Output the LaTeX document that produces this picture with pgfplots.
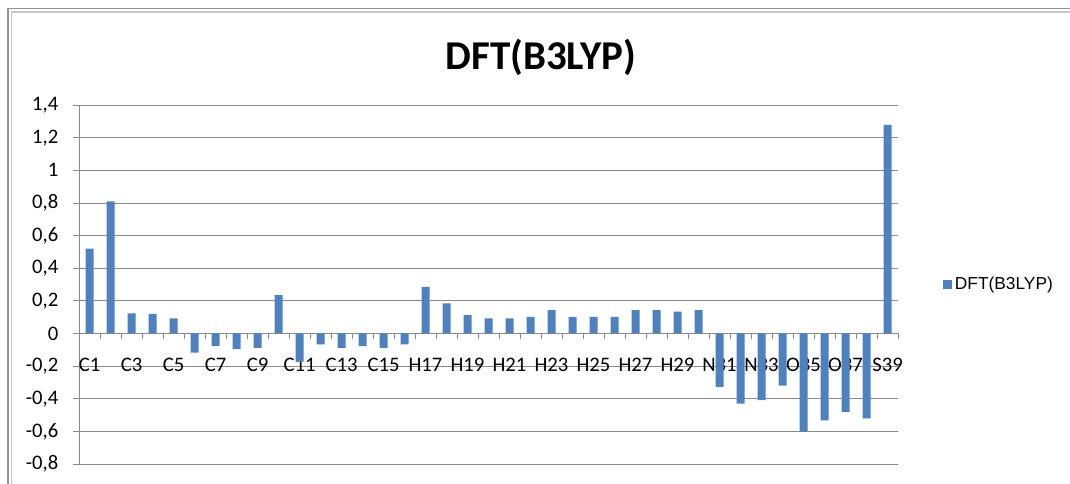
\documentclass[border=0pt]{standalone}
\usepackage{pgfplots}
\pgfplotsset{compat=1.18}
\usepackage{fontspec}
\setmainfont{Carlito}
\newfontfamily\arialfont{Liberation Sans}
\definecolor{barblue}{HTML}{4F81BD}
\definecolor{gridgray}{HTML}{8A8A8A}
\begin{document}
\begin{tikzpicture}
\useasboundingbox (0,0) rectangle (802.5pt,363pt);
\fill[white] (0,0) rectangle (802.5pt,363pt);
\draw[gray!85, line width=1pt] (6pt,0) -- (6pt,356.5pt) -- (802.5pt,356.5pt);
\draw[gray!45, line width=0.8pt] (8.6pt,0) -- (8.6pt,354pt) -- (802.5pt,354pt);
\node[font=\bfseries\fontsize{30.7}{36}\selectfont] at (405.75pt,320pt) {DFT(B3LYP)};
\begin{axis}[
  at={(59.25pt,15pt)}, anchor=south west,
  scale only axis, width=614.25pt, height=269.25pt,
  xmin=0.5, xmax=39.5, ymin=-0.8, ymax=1.4,
  axis x line=middle, axis y line=left,
  hide obscured x ticks=false, hide obscured y ticks=false,
  x axis line style={-, draw=gridgray, line width=0.6pt},
  y axis line style={-, draw=gridgray, line width=0.6pt},
  xtick={1,3,...,39},
  xticklabels={C1,C3,C5,C7,C9,C11,C13,C15,H17,H19,H21,H23,H25,H27,H29,N31,N33,O35,O37,S39},
  minor xtick={0.5,1.5,...,39.5},
  ytick={-0.8,-0.6,-0.4,-0.2,0,0.2,0.4,0.6,0.8,1,1.2,1.4},
  yticklabels={{-0,8},{-0,6},{-0,4},{-0,2},0,{0,2},{0,4},{0,6},{0,8},1,{1,2},{1,4}},
  minor ytick={-0.8,-0.6,-0.4,-0.2,0,0.2,0.4,0.6,0.8,1,1.2,1.4},
  major tick length=0pt, minor tick length=4.5pt, tick align=outside,
  minor tick style={draw=gridgray, line width=0.6pt},
  ymajorgrids, major grid style={draw=gridgray, line width=0.6pt},
  xticklabel style={font=\fontsize{15.5}{18}\selectfont, anchor=center, yshift=-23.7pt},
  yticklabel style={font=\fontsize{15.5}{18}\selectfont, anchor=east, xshift=-12pt},
  ybar, bar width=6pt,
  legend style={at={(axis description cs:1.05,0.5)}, anchor=west, draw=none, fill=none,
    font=\arialfont\fontsize{13}{15}\selectfont},
]
\addplot[fill=barblue, draw=none,
  legend image code/.code={\fill[barblue] (0pt,-3.4pt) rectangle (6.8pt,3.4pt);}]
coordinates {
(1,0.52) (2,0.81) (3,0.123) (4,0.12) (5,0.092) (6,-0.117) (7,-0.078) (8,-0.096)
(9,-0.088) (10,0.235) (11,-0.172) (12,-0.067) (13,-0.088) (14,-0.078) (15,-0.088)
(16,-0.067) (17,0.286) (18,0.184) (19,0.112) (20,0.092) (21,0.092) (22,0.102)
(23,0.143) (24,0.102) (25,0.102) (26,0.102) (27,0.143) (28,0.143) (29,0.133)
(30,0.143) (31,-0.327) (32,-0.43) (33,-0.409) (34,-0.319) (35,-0.60) (36,-0.532)
(37,-0.48) (38,-0.521) (39,1.278)
};
\addlegendentry{DFT(B3LYP)}
\end{axis}
\end{tikzpicture}
\end{document}
